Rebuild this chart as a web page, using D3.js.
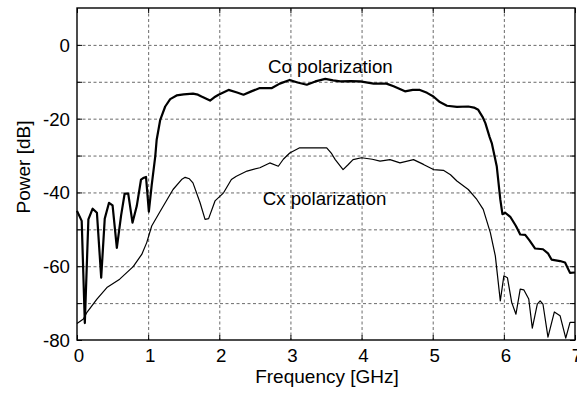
<!DOCTYPE html>
<html>
<head>
<meta charset="utf-8">
<script src="https://cdn.jsdelivr.net/npm/d3@7"></script>
<style>
  body { margin: 0; background: #fff; }
  svg text { font-family: "Liberation Sans", Arial, sans-serif; fill: #000; }
</style>
</head>
<body>
<div id="graphicContainer"></div>
<script>

// Co polarization (thick line)
const coFreq = [0, 0.066, 0.11, 0.16, 0.22, 0.28, 0.34, 0.39, 0.45, 0.50, 0.56, 0.62, 0.67, 0.72, 0.78, 0.84, 0.90, 0.93, 0.97, 1.01,
  1.05, 1.10, 1.12, 1.17, 1.24, 1.31, 1.40, 1.50, 1.63, 1.70, 1.75, 1.87, 1.93, 1.99, 2.13, 2.25, 2.34, 2.45, 2.57, 2.74,
  2.85, 2.99, 3.10, 3.23, 3.35, 3.49, 3.60, 3.70, 3.85, 3.98, 4.17, 4.35, 4.45, 4.61, 4.72, 4.82, 4.92, 5.01, 5.10, 5.20,
  5.34, 5.50, 5.58, 5.64, 5.70, 5.74, 5.80, 5.83, 5.90, 5.95, 5.98, 6.02, 6.09, 6.17, 6.23, 6.30, 6.36, 6.44, 6.55, 6.62,
  6.67, 6.79, 6.86, 6.93, 7.0]
const coPower = [-45, -47.7, -75.4, -47.3, -44.4, -45.5, -63.1, -47.1, -42.8, -43.5, -55, -46.2, -40.3, -40.3, -48.2, -43.7, -36.5, -36.1, -35.8, -45.2,
  -38, -30.2, -25.7, -20.3, -16.7, -14.7, -13.7, -13.4, -13.2, -13.5, -14, -15.1, -14.2, -13.5, -12.2, -12.9, -13.5, -12.6, -11.7, -11.7,
  -10.5, -9.5, -10.2, -10.8, -9.9, -9.2, -9.6, -9.9, -9.8, -9.9, -10.5, -10.5, -11.2, -12.6, -12.2, -12.2, -13, -14, -15.5, -16.5,
  -16.8, -16.7, -17, -17.6, -19.5, -21.2, -25, -26.6, -32.9, -41.9, -45.9, -45.5, -46.6, -49.1, -51.4, -51.5, -53, -55.2, -55.4, -56.5,
  -58.2, -58.6, -59, -61.8, -61.7]

// Cx polarization (thin line)
const cxFreq = [0, 0.09, 0.14, 0.28, 0.42, 0.60, 0.79, 0.91, 0.98, 1.05, 1.17, 1.35, 1.47, 1.52, 1.58, 1.63, 1.73, 1.80, 1.85, 1.94,
  2.06, 2.17, 2.24, 2.39, 2.57, 2.71, 2.83, 2.90, 2.99, 3.13, 3.51, 3.58, 3.63, 3.74, 3.81, 3.88, 4.00, 4.15, 4.26, 4.40,
  4.54, 4.73, 4.87, 5.01, 5.15, 5.25, 5.34, 5.50, 5.62, 5.71, 5.81, 5.88, 5.95, 6.00, 6.05, 6.11, 6.17, 6.23, 6.28, 6.35,
  6.40, 6.47, 6.51, 6.55, 6.62, 6.71, 6.79, 6.87, 6.93, 7.0]
const cxPower = [-75.5, -74.3, -72.5, -68.9, -65.8, -63.5, -60.1, -56.8, -53.6, -49.1, -45.1, -39.2, -36.5, -35.9, -36.3, -37.4, -42.8, -47.3, -47.1, -42.3,
  -40.1, -36.5, -35.6, -34.2, -33.3, -32, -32.9, -31, -29.3, -27.9, -27.9, -29.5, -31.1, -33.8, -32.5, -31.1, -30.6, -31, -31.5, -31.1,
  -32, -31.1, -32.4, -33.8, -34, -35.2, -36.9, -39.2, -41.9, -44.6, -50.9, -57.2, -69.4, -62.6, -63.1, -69.8, -73, -66.2, -66.4, -68.9,
  -76.8, -70.3, -69.4, -70.3, -79.2, -72.4, -73.4, -79.5, -75.2, -75.2]

// ticks
const xTickValues = [0, 1, 2, 3, 4, 5, 6, 7]
const yTickValues = [-80, -70, -60, -50, -40, -30, -20, -10, 0]
const yTickLabels = ["-80", "", "-60", "", "-40", "", "-20", "", "0"]

const width = 577
const height = 394
const marginleft = 77
const marginright = 2
const margintop = 8
const marginbottom = 54
const fontSize = 18.7

const svg = d3.select("#graphicContainer")
  .append("svg")
  .attr("width", width)
  .attr("height", height)

const x = d3.scaleLinear()
  .domain([0, 7])
  .range([marginleft, width - marginright])

const y = d3.scaleLinear()
  .domain([-80, 10])
  .range([height - marginbottom, margintop])

// grid
const grid = svg.append("g")
  .attr("stroke", "#444")
  .attr("stroke-width", 0.8)
  .attr("stroke-dasharray", "3,2.5")

grid.selectAll(".vgrid")
  .data(xTickValues.slice(1, -1))
  .enter()
  .append("line")
  .attr("x1", d => x(d) + 0.5)
  .attr("x2", d => x(d) + 0.5)
  .attr("y1", y(10))
  .attr("y2", y(-80))

grid.selectAll(".hgrid")
  .data(yTickValues.slice(1))
  .enter()
  .append("line")
  .attr("x1", x(0))
  .attr("x2", x(7))
  .attr("y1", d => y(d) + 0.5)
  .attr("y2", d => y(d) + 0.5)

// inward ticks on all sides
const tickLen = 5
const ticks = svg.append("g")
  .attr("stroke", "#000")
  .attr("stroke-width", 1)

yTickValues.forEach(d => {
  ticks.append("line")
    .attr("x1", x(0)).attr("x2", x(0) + tickLen)
    .attr("y1", y(d) + 0.5).attr("y2", y(d) + 0.5)
  ticks.append("line")
    .attr("x1", x(7)).attr("x2", x(7) - tickLen)
    .attr("y1", y(d) + 0.5).attr("y2", y(d) + 0.5)
})

xTickValues.forEach(d => {
  ticks.append("line")
    .attr("x1", x(d) + 0.5).attr("x2", x(d) + 0.5)
    .attr("y1", y(-80)).attr("y2", y(-80) - tickLen)
  ticks.append("line")
    .attr("x1", x(d) + 0.5).attr("x2", x(d) + 0.5)
    .attr("y1", y(10)).attr("y2", y(10) + tickLen)
})

// curves
const line = d3.line()
  .x(d => x(d[0]))
  .y(d => y(d[1]))

svg.append("path")
  .datum(cxFreq.map((f, i) => [f, cxPower[i]]))
  .attr("fill", "none")
  .attr("stroke", "#000")
  .attr("stroke-width", 1.2)
  .attr("stroke-linejoin", "round")
  .attr("d", line)

svg.append("path")
  .datum(coFreq.map((f, i) => [f, coPower[i]]))
  .attr("fill", "none")
  .attr("stroke", "#000")
  .attr("stroke-width", 2.2)
  .attr("stroke-linejoin", "round")
  .attr("d", line)

// frame
svg.append("rect")
  .attr("x", x(0))
  .attr("y", y(10))
  .attr("width", x(7) - x(0))
  .attr("height", y(-80) - y(10))
  .attr("fill", "none")
  .attr("stroke", "#000")
  .attr("stroke-width", 1.4)

// tick labels
svg.selectAll(".xlabel")
  .data(xTickValues)
  .enter()
  .append("text")
  .attr("x", d => x(d) + 2)
  .attr("y", 362)
  .attr("text-anchor", "middle")
  .style("font-size", fontSize + "px")
  .text(d => d)

svg.selectAll(".ylabel")
  .data(yTickValues)
  .enter()
  .append("text")
  .attr("x", 70)
  .attr("y", d => y(d) + 7)
  .attr("text-anchor", "end")
  .style("font-size", fontSize + "px")
  .text((d, i) => yTickLabels[i])

// axis titles
svg.append("text")
  .attr("x", (x(0) + x(7)) / 2 + 1)
  .attr("y", 383)
  .attr("text-anchor", "middle")
  .style("font-size", "19px")
  .text("Frequency [GHz]")

svg.append("text")
  .attr("transform", "translate(30,167) rotate(-90)")
  .attr("text-anchor", "middle")
  .style("font-size", "19px")
  .text("Power [dB]")

// annotations
svg.append("text")
  .attr("x", x(2.685))
  .attr("y", y(-7.6))
  .style("font-size", fontSize + "px")
  .text("Co polarization")

svg.append("text")
  .attr("x", x(2.61))
  .attr("y", y(-43.4))
  .style("font-size", fontSize + "px")
  .text("Cx polarization")

</script>
</body>
</html>
